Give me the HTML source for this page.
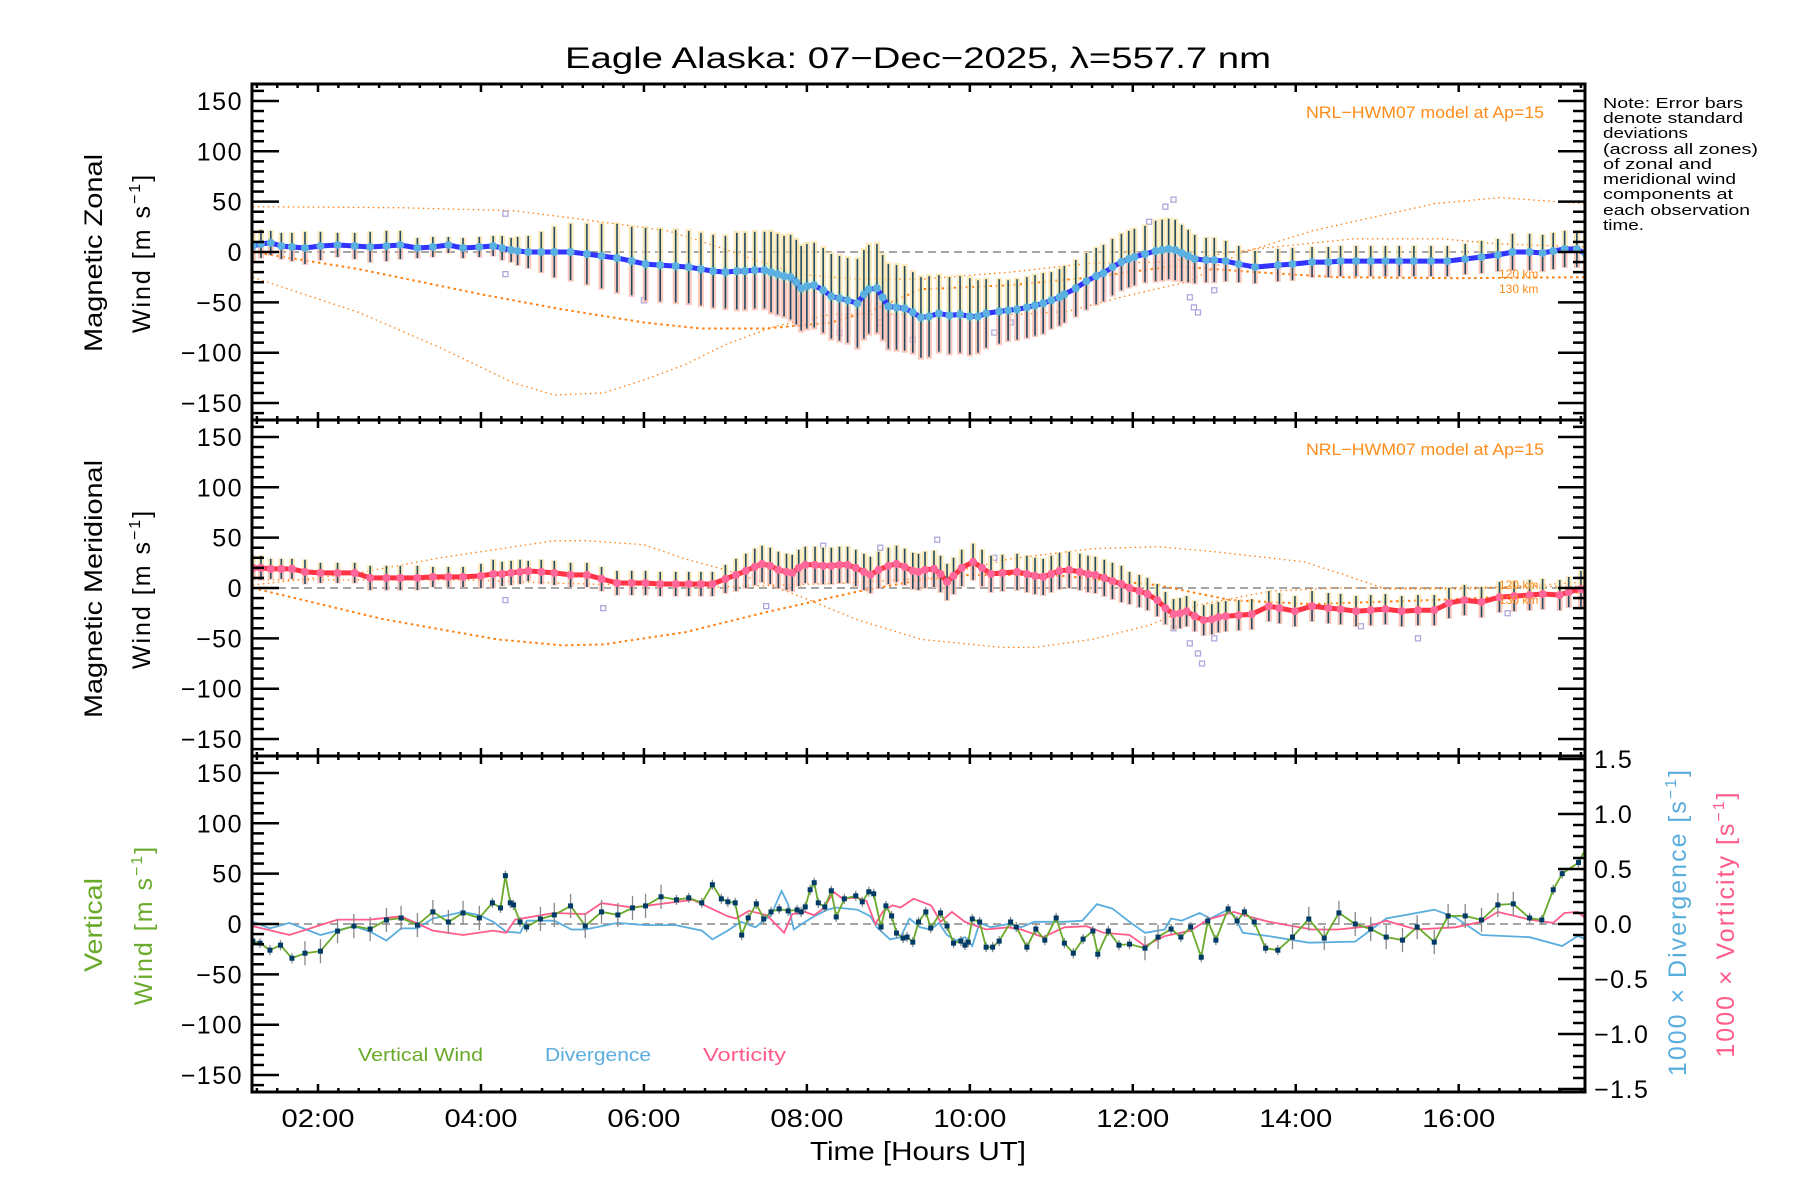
<!DOCTYPE html>
<html><head><meta charset="utf-8"><title>Eagle Alaska winds</title>
<style>
html,body{margin:0;padding:0;background:#fff;}
svg{display:block;font-family:"Liberation Sans",sans-serif;}
</style></head>
<body>
<svg id="chart" xmlns="http://www.w3.org/2000/svg" width="1800" height="1200" viewBox="0 0 1800 1200">
<rect x="0" y="0" width="1800" height="1200" fill="#fff"/>
<text x="918" y="68" font-size="30" text-anchor="middle" textLength="706" lengthAdjust="spacingAndGlyphs">Eagle Alaska: 07−Dec−2025, λ=557.7 nm</text>
<g id="plots"></g>
<text x="918" y="1160" font-size="26" text-anchor="middle" textLength="216" lengthAdjust="spacingAndGlyphs">Time [Hours UT]</text>
<text transform="translate(102,253) rotate(-90)" font-size="25" text-anchor="middle" textLength="198" lengthAdjust="spacingAndGlyphs">Magnetic Zonal</text>
<text transform="translate(150,253) rotate(-90)" font-size="25" text-anchor="middle" letter-spacing="2">Wind [m s<tspan font-size="16" dy="-10">−1</tspan><tspan dy="10">]</tspan></text>
<text transform="translate(102,589) rotate(-90)" font-size="25" text-anchor="middle" textLength="258" lengthAdjust="spacingAndGlyphs">Magnetic Meridional</text>
<text transform="translate(150,589) rotate(-90)" font-size="25" text-anchor="middle" letter-spacing="2">Wind [m s<tspan font-size="16" dy="-10">−1</tspan><tspan dy="10">]</tspan></text>
<text transform="translate(102,925) rotate(-90)" font-size="25" fill="#6aaa2a" text-anchor="middle" textLength="94" lengthAdjust="spacingAndGlyphs">Vertical</text>
<text transform="translate(152,925) rotate(-90)" font-size="25" fill="#6aaa2a" text-anchor="middle" letter-spacing="2">Wind [m s<tspan font-size="16" dy="-10">−1</tspan><tspan dy="10">]</tspan></text>
<text transform="translate(1686,922) rotate(-90)" font-size="25" fill="#5aaede" text-anchor="middle" letter-spacing="2">1000 × Divergence [s<tspan font-size="16" dy="-10">−1</tspan><tspan dy="10">]</tspan></text>
<text transform="translate(1734,924) rotate(-90)" font-size="25" fill="#ff5c8a" text-anchor="middle" letter-spacing="2">1000 × Vorticity [s<tspan font-size="16" dy="-10">−1</tspan><tspan dy="10">]</tspan></text>
<g font-size="15">
<text x="1603" y="108" textLength="140" lengthAdjust="spacingAndGlyphs">Note: Error bars</text>
<text x="1603" y="123" textLength="140" lengthAdjust="spacingAndGlyphs">denote standard</text>
<text x="1603" y="138" textLength="85" lengthAdjust="spacingAndGlyphs">deviations</text>
<text x="1603" y="154" textLength="155" lengthAdjust="spacingAndGlyphs">(across all zones)</text>
<text x="1603" y="169" textLength="109" lengthAdjust="spacingAndGlyphs">of zonal and</text>
<text x="1603" y="184" textLength="133" lengthAdjust="spacingAndGlyphs">meridional wind</text>
<text x="1603" y="199" textLength="130" lengthAdjust="spacingAndGlyphs">components at</text>
<text x="1603" y="215" textLength="147" lengthAdjust="spacingAndGlyphs">each observation</text>
<text x="1603" y="230" textLength="41" lengthAdjust="spacingAndGlyphs">time.</text>
</g>
<text x="1544" y="118" font-size="17" fill="#ff8c1a" text-anchor="end" textLength="238" lengthAdjust="spacingAndGlyphs">NRL−HWM07 model at Ap=15</text>
<text x="1544" y="455" font-size="17" fill="#ff8c1a" text-anchor="end" textLength="238" lengthAdjust="spacingAndGlyphs">NRL−HWM07 model at Ap=15</text>
<text x="1499" y="278" font-size="12" fill="#ff8c1a">120 km</text>
<text x="1499" y="293" font-size="12" fill="#ff8c1a">130 km</text>
<text x="1499" y="589" font-size="12" fill="#ff8c1a">120 km</text>
<text x="1499" y="604" font-size="12" fill="#ff8c1a">130 km</text>
<text x="358" y="1061" font-size="18" fill="#6aaa2a" textLength="125" lengthAdjust="spacingAndGlyphs">Vertical Wind</text>
<text x="545" y="1061" font-size="18" fill="#5aaede" textLength="106" lengthAdjust="spacingAndGlyphs">Divergence</text>
<text x="703" y="1061" font-size="18" fill="#ff5c8a" textLength="83" lengthAdjust="spacingAndGlyphs">Vorticity</text>
</svg>
<script>
// ---------- data ----------
const zonalHours = [1.20,1.30,1.42,1.55,1.68,1.84,2.03,2.24,2.45,2.64,
 2.84,3.01,3.22,3.41,3.60,3.78,3.98,4.15,4.26,4.37,
 4.45,4.58,4.74,4.90,5.10,5.30,5.48,5.67,5.85,6.02,
 6.20,6.39,6.55,6.70,6.85,7.00,7.14,7.24,7.36,7.48,
 7.56,7.64,7.72,7.80,7.87,7.93,8.00,8.09,8.20,8.30,
 8.40,8.50,8.62,8.70,8.76,8.86,8.93,9.00,9.10,9.20,
 9.30,9.40,9.50,9.62,9.75,9.88,10.00,10.10,10.20,10.36,
 10.47,10.58,10.70,10.80,10.90,11.00,11.10,11.16,11.30,11.43,
 11.55,11.64,11.75,11.86,11.95,12.02,12.15,12.28,12.36,12.44,
 12.52,12.60,12.68,12.76,12.90,13.00,13.14,13.30,13.50,13.78,
 13.96,14.20,14.40,14.55,14.74,14.92,15.10,15.27,15.45,15.66,
 15.86,16.08,16.28,16.48,16.66,16.87,17.03,17.16,17.30,17.45,
 17.56];
const zonalWind = [6,8,9,6,5,4,6,7,6,5,
 6,7,4,5,7,4,5,6,4,2,
 1,0,0,0,0,-2,-4,-6,-9,-12,
 -13,-14,-15,-17,-19,-20,-19,-19,-18,-18,
 -20,-22,-24,-25,-30,-36,-34,-33,-38,-44,
 -46,-48,-51,-42,-37,-36,-45,-54,-55,-56,
 -60,-65,-64,-61,-63,-62,-64,-64,-61,-59,
 -58,-57,-55,-53,-51,-48,-45,-42,-36,-29,
 -24,-21,-15,-10,-7,-5,-2,1,2,3,
 2,-1,-4,-7,-8,-8,-9,-12,-15,-13,
 -12,-10,-10,-9,-9,-9,-9,-9,-9,-9,
 -9,-7,-5,-3,0,0,-1,1,3,3,
 -2];
const zonalSd = [14,14,12,13,14,16,14,12,13,15,
 15,14,10,10,8,10,10,10,12,12,
 14,16,20,25,28,30,32,34,34,36,
 36,36,36,36,36,36,38,38,38,38,
 40,40,40,42,42,42,42,42,42,42,
 42,42,44,44,44,44,42,42,42,42,
 40,40,40,38,38,38,38,36,34,32,
 30,30,30,30,30,28,28,28,28,28,
 28,28,28,28,28,28,28,30,30,30,
 30,28,26,24,22,22,20,18,16,16,
 16,15,15,15,15,15,15,15,15,15,
 15,15,16,16,18,18,18,18,18,18,
 18];
const meridHours = [1.20,1.30,1.42,1.55,1.68,1.84,2.03,2.24,2.45,2.64,
 2.84,3.01,3.22,3.41,3.60,3.78,4.00,4.15,4.26,4.37,
 4.48,4.58,4.74,4.90,5.10,5.30,5.48,5.67,5.85,6.02,
 6.20,6.39,6.55,6.70,6.84,7.00,7.13,7.25,7.36,7.45,
 7.55,7.65,7.75,7.82,7.90,7.98,8.10,8.20,8.30,8.40,
 8.50,8.60,8.70,8.78,8.88,9.00,9.10,9.20,9.30,9.37,
 9.45,9.56,9.64,9.72,9.80,9.90,10.04,10.15,10.26,10.40,
 10.58,10.70,10.80,10.90,11.00,11.10,11.22,11.35,11.45,11.54,
 11.65,11.75,11.86,11.96,12.08,12.18,12.30,12.40,12.50,12.58,
 12.66,12.76,12.87,12.97,13.05,13.14,13.30,13.46,13.67,13.80,
 13.99,14.20,14.40,14.55,14.74,14.92,15.10,15.30,15.50,15.70,
 15.88,16.07,16.28,16.50,16.68,16.87,17.03,17.24,17.35,17.50,
 17.56];
const meridWind = [20,20,19,19,19,16,15,15,15,10,
 10,10,10,11,11,11,12,14,14,15,
 16,17,16,15,13,13,9,5,5,5,
 4,4,4,4,4,9,13,17,21,24,
 22,18,16,15,20,23,23,22,22,23,
 23,20,16,13,18,22,24,21,17,16,
 18,19,14,6,12,20,26,20,14,15,
 16,14,12,11,14,17,18,16,14,13,
 10,7,4,0,-3,-6,-12,-20,-26,-25,
 -23,-28,-32,-31,-29,-28,-27,-26,-18,-20,
 -23,-18,-20,-21,-23,-22,-21,-23,-22,-22,
 -15,-12,-14,-9,-8,-7,-6,-7,-4,-1,
 -2];
const meridSd = [12,12,10,10,10,12,10,10,10,12,
 12,12,12,10,10,10,12,14,12,12,
 12,10,12,12,12,12,12,12,12,12,
 12,12,12,12,12,14,16,17,18,18,
 18,18,18,18,18,18,18,18,18,18,
 18,18,18,18,18,18,18,18,18,18,
 18,18,18,18,18,18,18,18,18,18,
 18,18,18,18,18,18,18,18,18,18,
 18,18,18,16,16,16,16,16,15,15,
 15,15,15,15,15,15,15,15,15,15,
 15,15,15,15,15,15,15,15,15,15,
 15,15,15,15,15,15,15,15,15,18,
 18];
const zonalModel1Hours = [1.2,3.0,4.4,5.1,6.3,6.8,7.3,7.9,8.6,9.4,10.5,11.5,12.4,13.5,14.7,15.8,16.5,17.56];
const zonalModel1 = [45,44,41,34,21,8,-6,-22,-27,-27,-20,-11,-10,3,13,13,8,5];
const zonalModel2Hours = [1.2,2.5,4.0,5.0,6.0,6.7,7.5,8.3,8.8,9.4,10.5,11.5,12.5,13.5,14.5,16.0,17.56];
const zonalModel2 = [0,-17,-42,-57,-70,-76,-76,-70,-58,-37,-33,-25,-14,-20,-25,-26,-25];
const zonalModel3Hours = [1.2,2.5,3.5,4.4,4.9,5.5,6.0,6.5,7.0,7.6,8.3,9.4,10.6,11.2,11.9,12.7,13.3,14.2,15.7,16.5,17.56];
const zonalModel3 = [-25,-60,-95,-130,-142,-140,-127,-112,-92,-74,-62,-62,-62,-59,-44,-29,-2,21,48,54,48];
const meridModel1Hours = [1.2,2.5,3.5,4.9,5.3,6.0,6.5,7.0,7.45,8.0,8.6,9.4,10.4,10.8,11.5,12.2,12.8,13.7,14.5,15.5,17.56];
const meridModel1 = [3,15,30,47,47,43,29,18,6,-11,-31,-51,-59,-59,-51,-37,-17,-3,0,0,2];
const meridModel2Hours = [1.2,2.8,4.2,5.0,5.5,6.5,7.5,8.6,9.4,10.0,11.0,12.3,13.2,14.2,16.0,17.56];
const meridModel2 = [0,-31,-51,-57,-56,-44,-24,-4,8,13,13,3,-12,-16,-11,-4];
const meridModel3Hours = [1.2,3.8,5.3,6.9,8.5,9.5,10.5,11.5,12.3,13.0,14.1,14.6,15.1,16.2,17.56];
const meridModel3 = [8,8,4,1,5,10,29,39,41,36,26,13,-1,-1,6];
const vertHours = [1.20,1.29,1.41,1.54,1.68,1.84,2.03,2.24,2.44,2.64,
 2.84,3.02,3.22,3.41,3.60,3.78,3.98,4.14,4.24,4.30,
 4.36,4.40,4.48,4.56,4.73,4.90,5.10,5.28,5.48,5.68,
 5.86,6.02,6.21,6.40,6.55,6.71,6.84,6.95,7.03,7.12,
 7.20,7.28,7.38,7.47,7.56,7.66,7.77,7.88,7.93,7.98,
 8.04,8.09,8.14,8.22,8.30,8.36,8.46,8.60,8.68,8.76,
 8.82,8.91,8.97,9.04,9.10,9.18,9.23,9.30,9.37,9.46,
 9.52,9.64,9.72,9.80,9.89,9.94,9.98,10.03,10.12,10.20,
 10.28,10.36,10.50,10.57,10.70,10.81,10.92,11.06,11.16,11.27,
 11.39,11.51,11.57,11.70,11.83,11.96,12.15,12.31,12.47,12.59,
 12.71,12.84,12.92,13.02,13.17,13.28,13.37,13.49,13.63,13.78,
 13.96,14.16,14.35,14.53,14.73,14.92,15.11,15.31,15.49,15.70,
 15.87,16.08,16.28,16.48,16.67,16.87,17.02,17.16,17.27,17.47,
 17.56];
const vertWind = [-17,-19,-26,-21,-34,-29,-27,-7,-2,-5,
 4,6,-1,12,2,11,6,21,16,48,
 21,19,2,-3,5,9,18,-2,12,9,
 16,18,27,24,26,21,39,25,22,21,
 -11,6,20,5,12,15,13,14,12,17,
 34,41,21,17,33,7,25,28,22,32,
 30,-3,18,8,-9,-14,-13,-18,2,12,
 -4,11,-2,-19,-17,-21,-18,5,2,-23,
 -23,-17,2,-3,-23,-5,-16,6,-19,-29,
 -15,-7,-30,-7,-21,-20,-24,-13,-5,-13,
 -3,-33,3,-16,15,3,12,2,-24,-26,
 -13,5,-14,11,0,-5,-13,-16,-3,-18,
 8,8,4,19,20,6,4,34,50,61,
 75];
const divHours = [1.20,1.41,1.65,2.03,2.44,2.64,2.84,3.02,3.22,3.41,3.78,3.98,4.15,4.31,4.48,4.56,4.90,5.11,5.28,5.68,6.02,6.39,6.71,6.84,7.03,7.19,7.37,7.45,7.56,7.69,7.77,7.84,7.98,8.09,8.25,8.36,8.62,8.78,8.86,9.02,9.15,9.26,9.39,9.52,
 9.62,9.72,9.83,9.94,10.03,10.12,10.26,10.47,10.63,10.79,11.16,11.38,11.56,11.75,11.96,12.15,12.39,12.47,12.60,12.82,12.95,13.14,13.24,13.35,13.67,14.16,14.73,15.11,15.70,15.96,16.28,16.87,17.27,17.46,17.56];
const divergence = [0.02,-0.04,0.01,-0.10,-0.02,-0.07,-0.15,-0.04,-0.04,0.05,0.11,0.08,0.02,-0.07,-0.08,0.03,0.03,-0.05,-0.05,0.01,-0.01,-0.01,-0.06,-0.14,-0.06,0.02,-0.03,0.02,0.08,0.30,0.18,-0.05,0.02,0.07,0.13,0.15,0.13,0.07,-0.03,-0.14,-0.12,0.05,-0.03,-0.05,
 0.01,-0.10,-0.15,-0.12,-0.20,0.01,-0.03,0.00,-0.03,0.02,0.02,0.03,0.18,0.14,0.02,-0.08,-0.05,0.05,0.03,0.10,0.05,0.12,0.08,-0.08,-0.11,-0.17,-0.16,0.05,0.13,0.06,-0.10,-0.12,-0.20,-0.11,-0.14];
const vortHours = [1.20,1.65,2.24,2.64,3.02,3.41,3.78,4.15,4.31,4.42,4.90,5.28,5.48,5.86,6.39,6.60,7.03,7.13,7.29,7.51,7.72,7.82,7.98,8.09,8.20,8.33,8.44,8.62,8.73,8.84,8.94,9.05,9.15,9.31,9.52,
 9.54,9.64,9.78,9.94,10.20,10.47,10.63,10.90,11.16,11.43,11.64,11.96,12.15,12.39,12.71,12.92,13.24,13.46,13.67,14.20,14.52,14.90,15.11,15.48,15.96,16.28,16.48,16.87,17.16,17.30,17.46,17.56];
const vorticity = [-0.02,-0.10,0.04,0.04,0.07,-0.06,-0.10,-0.06,-0.08,0.04,0.10,0.09,0.19,0.15,0.20,0.22,0.07,0.05,0.12,0.08,-0.08,0.09,0.11,0.08,0.14,0.29,0.23,0.24,0.21,0.00,0.12,0.17,0.15,0.23,0.17,
 0.15,0.02,0.11,0.02,-0.05,-0.03,-0.05,-0.12,-0.03,-0.02,-0.08,-0.10,-0.20,-0.11,-0.06,0.04,0.11,0.06,0.02,-0.05,-0.05,-0.02,0.03,-0.05,-0.03,0.02,0.11,0.04,0.01,0.10,0.11,0.05];
const outlierZonalHours = [4.3,4.3,6.0,8.4,8.9,9.3,10.3,10.5,12.2,12.4,12.5,12.7,12.75,12.8,13.0];
const outlierZonal = [38,-22,-48,-80,-70,-87,-80,-70,30,45,52,-45,-55,-60,-38];
const outlierMeridHours = [4.3,5.5,7.5,8.2,8.9,9.6,10.3,12.5,12.7,12.8,12.85,13.0,14.8,15.5,16.6];
const outlierMerid = [-12,-20,-18,42,40,48,30,-40,-55,-65,-75,-50,-38,-50,-25];
const yTicks = [-150,-100,-50,0,50,100,150];
const yTickLabels = ["−150","−100","−50","0","50","100","150"];
const rTicks = [-1.5,-1.0,-0.5,0.0,0.5,1.0,1.5];
const rTickLabels = ["−1.5","−1.0","−0.5","0.0","0.5","1.0","1.5"];
const xTicks = [2,4,6,8,10,12,14,16];
const xTickLabels = ["02:00","04:00","06:00","08:00","10:00","12:00","14:00","16:00"];

// ---------- geometry ----------
const X0 = 252, X1 = 1585, TMIN = 1.19, TMAX = 17.55;
const PH = 336, TOPS = [84, 420, 756];
const NS = "http://www.w3.org/2000/svg";
const root = document.getElementById('plots');
function xs(h){ return X0 + (h - TMIN) * (X1 - X0) / (TMAX - TMIN); }
function ys(p, v){ return TOPS[p] + PH/2 - v * 1.007; }
function yr(v){ return TOPS[2] + PH/2 - v * 110; }
function mk(tag, name, attrs, parent){
  const el = document.createElementNS(NS, tag);
  for (const k in attrs) el.setAttribute(k, attrs[k]);
  
  
  (parent || root).appendChild(el);
  return el;
}
function pts(hs, vs, f){ let s=[]; for(let i=0;i<Math.min(hs.length,vs.length);i++) s.push(xs(hs[i]).toFixed(1)+','+f(vs[i]).toFixed(1)); return s.join(' '); }

const clip = mk('clipPath', 'plot-clip', {id:'pc'});
mk('rect', 'plot-clip-rect', {x:X0, y:TOPS[0], width:X1-X0, height:PH*3}, clip);
const dataG = mk('g', 'data-layer', {'clip-path':'url(#pc)'});

for (let p=0;p<3;p++){
  mk('line', 'zero-line-panel-'+(p+1), {x1:X0, x2:X1, y1:ys(p,0), y2:ys(p,0), stroke:'#888', 'stroke-width':1.5, 'stroke-dasharray':'8,5'}, dataG);
}

function model(p, hs, vs, name, w, dash){
  mk('polyline', name, {points:pts(hs,vs,v=>ys(p,v)), fill:'none', stroke:'#ff7f0e', 'stroke-width':w, 'stroke-dasharray':dash}, dataG);
}
model(0, zonalModel1Hours, zonalModel1, 'zonal-model-curve-1', 1.3, '1.5,3.5');
model(0, zonalModel2Hours, zonalModel2, 'zonal-model-curve-2', 2, '2.5,3.5');
model(0, zonalModel3Hours, zonalModel3, 'zonal-model-curve-3', 1.3, '1.5,3.5');
model(1, meridModel1Hours, meridModel1, 'meridional-model-curve-1', 1.3, '1.5,3.5');
model(1, meridModel2Hours, meridModel2, 'meridional-model-curve-2', 2, '2.5,3.5');
model(1, meridModel3Hours, meridModel3, 'meridional-model-curve-3', 1.3, '1.5,3.5');

function outliers(p, hs, vs, name){
  for (let i=0;i<Math.min(hs.length,vs.length);i++){
    mk('rect', name, {x:xs(hs[i])-2.5, y:ys(p,vs[i])-2.5, width:5, height:5, fill:'none', stroke:'#b0a8dc', 'stroke-width':1.3}, dataG);
  }
}
outliers(0, outlierZonalHours, outlierZonal, 'zonal-zone-sample');
outliers(1, outlierMeridHours, outlierMerid, 'meridional-zone-sample');

function windSeries(p, hs, vs, es, lineColor, dotColor, name){
  const n = Math.min(hs.length, vs.length, es.length);
  for (let i=0;i<n;i++){
    const x = xs(hs[i]);
    mk('rect', name+'-spread-upper', {x:x-3, y:ys(p,vs[i]+es[i]*1.05), width:6, height:es[i]*1.05*1.007, fill:'#fae3a6', opacity:0.75}, dataG);
    mk('rect', name+'-spread-lower', {x:x-3, y:ys(p,vs[i]), width:6, height:es[i]*1.05*1.007, fill:'#f8b8a8', opacity:0.75}, dataG);
    mk('rect', name+'-spread-mid', {x:x-3, y:ys(p,vs[i]+es[i]*0.15), width:6, height:es[i]*0.3*1.007, fill:'#c8f0c8', opacity:0.6}, dataG);
  }
  for (let i=0;i<n;i++){
    const x = xs(hs[i]);
    mk('line', name+'-sd-bar', {x1:x, x2:x, y1:ys(p,vs[i]-es[i]), y2:ys(p,vs[i]+es[i]), stroke:'#0a3a5a', 'stroke-width':1.6, opacity:0.9}, dataG);
  }
  mk('polyline', name+'-line', {points:pts(hs,vs,v=>ys(p,v)), fill:'none', stroke:lineColor, 'stroke-width':5, 'stroke-linejoin':'round'}, dataG);
  for (let i=0;i<n;i++){
    mk('circle', name+'-point', {cx:xs(hs[i]), cy:ys(p,vs[i]), r:4, fill:dotColor}, dataG);
  }
}
windSeries(0, zonalHours, zonalWind, zonalSd, '#3333ff', '#5ab0e0', 'zonal-wind');
windSeries(1, meridHours, meridWind, meridSd, '#ff3344', '#ff6699', 'meridional-wind');

mk('polyline', 'divergence-line', {points:pts(divHours, divergence, yr), fill:'none', stroke:'#5aaede', 'stroke-width':1.8}, dataG);
mk('polyline', 'vorticity-line', {points:pts(vortHours, vorticity, yr), fill:'none', stroke:'#ff5c8a', 'stroke-width':1.8}, dataG);
for (let i=0;i<vertHours.length;i++){
  const prev = i>0 ? vertHours[i]-vertHours[i-1] : 0.2;
  const next = i<vertHours.length-1 ? vertHours[i+1]-vertHours[i] : 0.2;
  const e = Math.min(prev,next) > 0.15 ? 12 : 5;
  const x = xs(vertHours[i]);
  mk('line', 'vertical-wind-error-bar', {x1:x, x2:x, y1:ys(2,vertWind[i]-e), y2:ys(2,vertWind[i]+e), stroke:'#888', 'stroke-width':1.3}, dataG);
}
mk('polyline', 'vertical-wind-line', {points:pts(vertHours, vertWind, v=>ys(2,v)), fill:'none', stroke:'#6aaa2a', 'stroke-width':1.8}, dataG);
for (let i=0;i<Math.min(vertHours.length,vertWind.length);i++){
  mk('rect', 'vertical-wind-point', {x:xs(vertHours[i])-2.5, y:ys(2,vertWind[i])-2.5, width:5, height:5, fill:'#003a66'}, dataG);
}

const axG = mk('g', 'axes', {});
for (let p=0;p<3;p++){
  const top = TOPS[p], bot = TOPS[p]+PH;
  mk('rect', 'panel-'+(p+1)+'-frame', {x:X0, y:top, width:X1-X0, height:PH, fill:'none', stroke:'#000', 'stroke-width':3}, axG);
  for (let v=-160; v<=160; v+=10){
    const y = ys(p,v);
    if (y < top+1 || y > bot-1) continue;
    const major = v % 50 === 0;
    const len = major ? 27 : 12;
    mk('line', 'y-tick', {x1:X0, x2:X0+len, y1:y, y2:y, stroke:'#000', 'stroke-width':2.5}, axG);
    if (p < 2) mk('line', 'y-tick-right', {x1:X1, x2:X1-len, y1:y, y2:y, stroke:'#000', 'stroke-width':2.5}, axG);
  }
  for (let i=0;i<yTicks.length;i++){
    const t = mk('text', 'y-tick-label', {x:243, y:ys(p,yTicks[i])+9, 'font-size':25, 'text-anchor':'end', 'letter-spacing':1.5}, axG);
    t.textContent = yTickLabels[i];
  }
  for (let m = Math.ceil(TMIN*4); m <= Math.floor(TMAX*4); m++){
    const h = m/4, x = xs(h);
    const major = m % 8 === 0;
    const len = major ? 8 : 4;
    mk('line', 'x-tick', {x1:x, x2:x, y1:bot, y2:bot-len, stroke:'#000', 'stroke-width':2.5}, axG);
    mk('line', 'x-tick-top', {x1:x, x2:x, y1:top, y2:top+len, stroke:'#000', 'stroke-width':2.5}, axG);
  }
}
for (let k=-15;k<=15;k++){
  const v = k/10, y = yr(v);
  const len = (k % 5 === 0) ? 27 : 12;
  mk('line', 'right-y-tick', {x1:X1, x2:X1-len, y1:y, y2:y, stroke:'#000', 'stroke-width':2.5}, axG);
}
for (let i=0;i<rTicks.length;i++){
  const t = mk('text', 'right-y-tick-label', {x:1594, y:yr(rTicks[i])+9, 'font-size':25, 'letter-spacing':1.5}, axG);
  t.textContent = rTickLabels[i];
}
for (let i=0;i<xTicks.length;i++){
  const t = mk('text', 'x-tick-label', {x:xs(xTicks[i]), y:1127, 'font-size':25, 'text-anchor':'middle', textLength:73, lengthAdjust:'spacingAndGlyphs'}, axG);
  t.textContent = xTickLabels[i];
}
</script>
</body></html>
